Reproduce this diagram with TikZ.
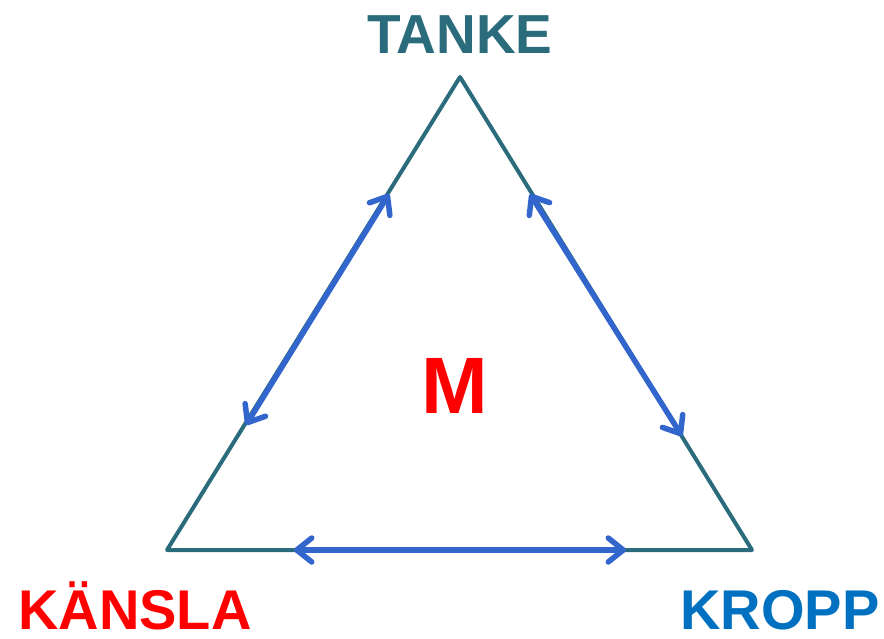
\documentclass[tikz,border=0pt]{standalone}
\usepackage{fontspec}
\setmainfont{Liberation Sans}
\usetikzlibrary{arrows.meta}
\definecolor{tealline}{HTML}{2A6B7C}
\definecolor{arrowblue}{HTML}{3366CC}
\definecolor{kroppblue}{HTML}{0070C0}
\definecolor{labelred}{HTML}{FF0000}
\tikzset{
  side/.style={draw=tealline, line width=4pt, line join=round, line cap=round},
  link/.style={draw=arrowblue, line width=5.5pt,
    {Straight Barb[length=15pt,width=24pt,round]}-{Straight Barb[length=15pt,width=24pt,round]}},
  corner/.style={font=\fontsize{56}{60}\selectfont\bfseries, anchor=base, inner sep=0pt, text depth=0pt}
}
\begin{document}
\begin{tikzpicture}[x=1pt,y=-1pt]
  \useasboundingbox (0,0) rectangle (884,638);
  % triangle corners
  \coordinate (T) at (460,77);
  \coordinate (L) at (167,550);
  \coordinate (R) at (752,550);
  \draw[side] (T) -- (R) -- (L) -- cycle;
  % ends of the double arrows along the sides
  \coordinate (la) at (246,425);
  \coordinate (lb) at (389,194);
  \coordinate (ra) at (530,194);
  \coordinate (rb) at (682,436);
  \coordinate (ba) at (294,550);
  \coordinate (bb) at (626,550);
  \draw[link] (la) -- (lb);
  \draw[link] (ra) -- (rb);
  \draw[link] (ba) -- (bb);
  % labels
  \node[corner, text=tealline, font=\fontsize{55}{60}\selectfont\bfseries] (tanke) at (460,53) {TANKE};
  \node[corner, text=labelred] (kansla) at (135,629) {KÄNSLA};
  \node[corner, text=kroppblue] (kropp) at (780,629) {KROPP};
  \node[corner, text=labelred, font=\fontsize{80}{84}\selectfont\bfseries] (m) at (455,413) {M};
\end{tikzpicture}
\end{document}
